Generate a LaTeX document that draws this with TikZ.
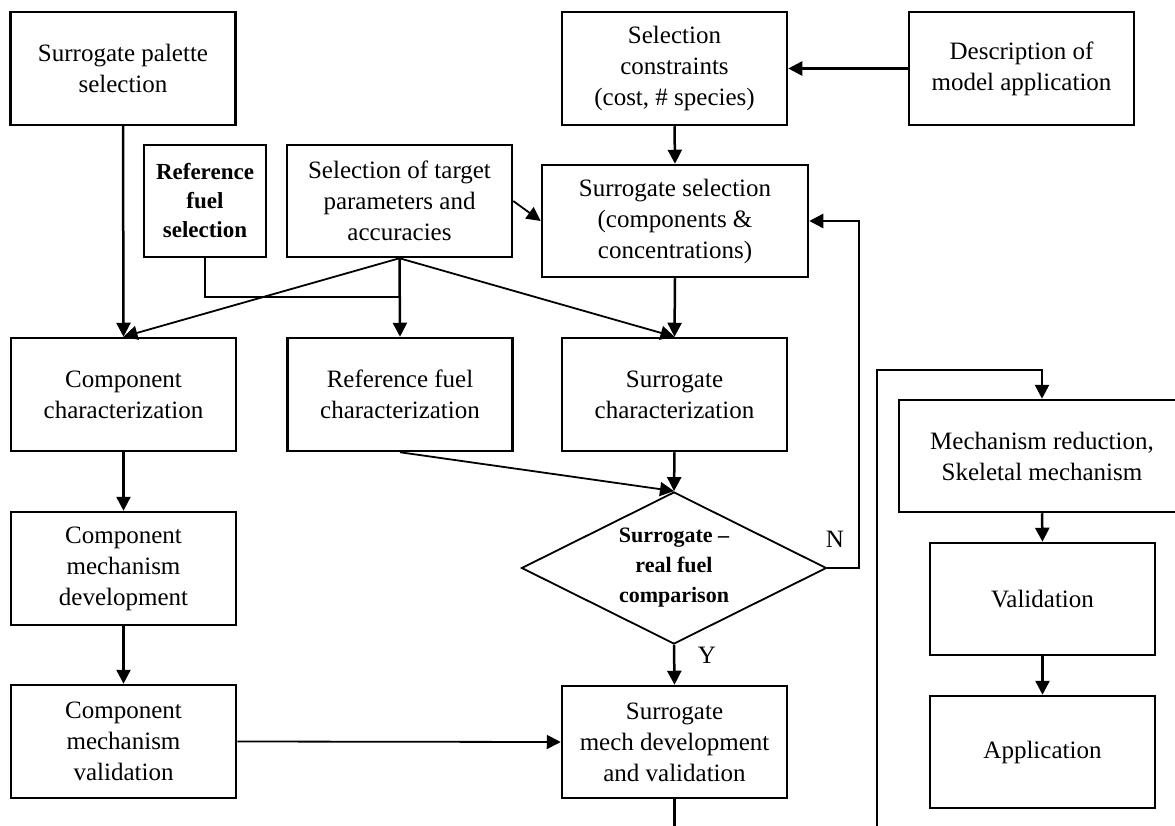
\documentclass[tikz,border=0pt]{standalone}
\usepackage{fontspec}
\setmainfont{Liberation Serif}
\usetikzlibrary{arrows.meta,shapes.geometric}
\begin{document}
\begin{tikzpicture}[x=1pt,y=-1pt,
  box/.style={draw, line width=2.5pt, minimum width=225pt, minimum height=113pt, align=center, inner sep=2pt, font=\fontsize{25}{31}\selectfont},
  smallbox/.style={box, font=\bfseries\fontsize{23}{29}\selectfont},
  arr/.style={line width=2.5pt, -{Triangle[length=14pt,width=14pt]}},
  darr/.style={line width=1.8pt, -{Triangle[length=14pt,width=14pt]}},
  ln/.style={line width=2.5pt},
  thinln/.style={line width=1.8pt},
  lbl/.style={font=\fontsize{25}{31}\selectfont, inner sep=0pt}]
\useasboundingbox (0,0) rectangle (1175,826);
\fill[white] (0,0) rectangle (1175,826);
\clip (0,0) rectangle (1175,826);

% top row
\node[box] (pal) at (123,68.5) {Surrogate palette\\selection};
\node[box] (con) at (674.5,68.5) {Selection\\constraints\\(cost, \# species)};
\node[box] (desc) at (1021.5,68.5) {Description of\\model application};

% second row
\node[smallbox, minimum width=122pt, minimum height=112pt] (reffs) at (205,201) {Reference\\fuel\\selection};
\node[box, minimum height=112pt] (tgt) at (399.5,201) {Selection of target\\parameters and\\accuracies};
\node[box, minimum width=266pt, minimum height=112pt] (ssel) at (675,221) {Surrogate selection\\(components \&\\concentrations)};

% characterization row
\node[box] (cchar) at (123.5,394.5) {Component\\characterization};
\node[box] (rchar) at (400,394.5) {Reference fuel\\characterization};
\node[box] (schar) at (674.5,394.5) {Surrogate\\characterization};

% left column
\node[box] (cdev) at (123.5,568.5) {Component\\mechanism\\development};
\node[box] (cval) at (123.5,741.5) {Component\\mechanism\\validation};

% decision
\node[diamond, draw, line width=1.8pt, aspect=2, minimum width=305pt, minimum height=152pt, inner sep=0pt, align=center, font=\bfseries\fontsize{22}{30}\selectfont] (dia) at (674,568) {Surrogate --\\real fuel\\comparison};
\node[box, minimum height=112pt] (smech) at (674.5,742) {Surrogate\\mech development\\and validation};

% right column
\node[box, minimum width=286pt, minimum height=112pt] (mred) at (1042,456) {Mechanism reduction,\\Skeletal mechanism};
\node[box, minimum height=112pt] (val) at (1042.5,599) {Validation};
\node[box, minimum height=112pt] (app) at (1042.5,752) {Application};

% labels
\node[lbl] (nlab) at (835,539) {N};
\node[lbl] (ylab) at (707,655) {Y};

% helper coordinates
\coordinate (join) at (399.5,297);
\coordinate (nturn) at (859,568);
\coordinate (smout) at (674.5,830);
\coordinate (lpbot) at (877,830);
\coordinate (lptop) at (877,370);

% connectors
\draw[arr] (pal.south) -- (cchar.north);
\draw[darr] (tgt.south) -- (cchar.north);
\draw[arr] (tgt.south) -- (rchar.north);
\draw[darr] (tgt.south) -- (schar.north);
\draw[thinln] (reffs.south) |- (join);
\draw[darr] (tgt.east) -- (ssel.west);
\draw[arr] (desc.west) -- (con.east);
\draw[arr] (con.south) -- (ssel.north);
\draw[arr] (ssel.south) -- (schar.north);
\draw[darr] (rchar.south) -- (dia.north);
\draw[arr] (schar.south) -- (dia.north);
\draw[arr] (dia.east) -- (nturn) |- (ssel.east);
\draw[arr] (dia.south) -- (smech.north);
\draw[arr] (cchar.south) -- (cdev.north);
\draw[arr] (cdev.south) -- (cval.north);
\draw[darr] (cval.east) -- (smech.west);
\draw[ln] (smech.south) -- (smout);
\draw[arr] (lpbot) -- (lptop) -| (mred.north);
\draw[arr] (mred.south) -- (val.north);
\draw[arr] (val.south) -- (app.north);
\end{tikzpicture}
\end{document}
